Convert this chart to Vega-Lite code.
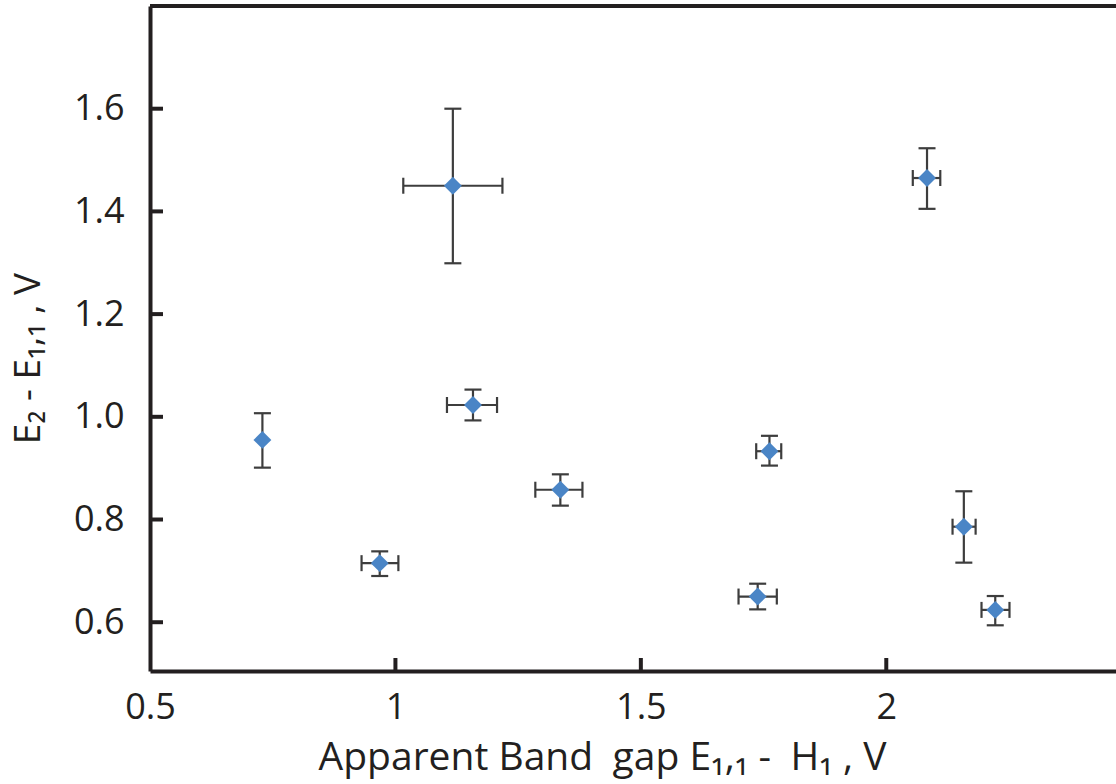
{
  "$schema": "https://vega.github.io/schema/vega-lite/v6.json",
  "width": 966,
  "height": 665,
  "autosize": {"type": "none"},
  "padding": {"left": 150, "top": 6, "right": 0, "bottom": 113},
  "background": "white",
  "config": {
    "view": {"stroke": null},
    "font": "Open Sans",
    "axis": {
      "grid": false,
      "ticks": false,
      "domainColor": "#231f20",
      "domainWidth": 4,
      "labelFont": "Open Sans",
      "labelFontSize": 36,
      "labelColor": "#231f20",
      "labelFlush": false,
      "labelOverlap": false,
      "titleFont": "Open Sans",
      "titleFontSize": 37,
      "titleFontWeight": "normal",
      "titleColor": "#231f20"
    }
  },
  "data": {
    "values": [
      {"x": 0.729, "y": 0.955, "xlo": null, "xhi": null, "ylo": 0.901, "yhi": 1.007},
      {"x": 0.968, "y": 0.715, "xlo": 0.931, "xhi": 1.006, "ylo": 0.690, "yhi": 0.738},
      {"x": 1.158, "y": 1.023, "xlo": 1.105, "xhi": 1.207, "ylo": 0.993, "yhi": 1.053},
      {"x": 1.336, "y": 0.858, "xlo": 1.285, "xhi": 1.381, "ylo": 0.827, "yhi": 0.888},
      {"x": 1.117, "y": 1.450, "xlo": 1.016, "xhi": 1.218, "ylo": 1.299, "yhi": 1.600},
      {"x": 2.083, "y": 1.465, "xlo": 2.054, "xhi": 2.110, "ylo": 1.405, "yhi": 1.523},
      {"x": 1.738, "y": 0.650, "xlo": 1.699, "xhi": 1.777, "ylo": 0.625, "yhi": 0.675},
      {"x": 2.222, "y": 0.624, "xlo": 2.194, "xhi": 2.251, "ylo": 0.594, "yhi": 0.651},
      {"x": 1.762, "y": 0.933, "xlo": 1.735, "xhi": 1.786, "ylo": 0.905, "yhi": 0.963},
      {"x": 2.158, "y": 0.786, "xlo": 2.135, "xhi": 2.182, "ylo": 0.716, "yhi": 0.855}
    ]
  },
  "layer": [
    {
      "mark": {"type": "rule", "color": "#231f20", "strokeWidth": 4},
      "encoding": {
        "y": {"datum": 1.8, "type": "quantitative", "scale": {"domain": [0.505, 1.8], "nice": false, "zero": false}}
      }
    },
    {
      "data": {"values": [{"tv": 1}, {"tv": 1.5}, {"tv": 2}]},
      "mark": {"type": "tick", "orient": "vertical", "color": "#231f20", "thickness": 4, "size": 13, "opacity": 1},
      "encoding": {
        "x": {"field": "tv", "type": "quantitative"},
        "y": {"datum": 0.5177, "type": "quantitative"}
      }
    },
    {
      "data": {"values": [{"tv": 0.6}, {"tv": 0.8}, {"tv": 1.0}, {"tv": 1.2}, {"tv": 1.4}, {"tv": 1.6}]},
      "mark": {"type": "tick", "orient": "horizontal", "color": "#231f20", "thickness": 4, "size": 13, "opacity": 1},
      "encoding": {
        "y": {"field": "tv", "type": "quantitative"},
        "x": {"datum": 0.5132, "type": "quantitative"}
      }
    },
    {
      "mark": {"type": "rule", "color": "#3d3d3d", "strokeWidth": 2.2},
      "encoding": {
        "x": {"field": "x", "type": "quantitative"},
        "y": {"field": "ylo", "type": "quantitative"},
        "y2": {"field": "yhi"}
      }
    },
    {
      "mark": {"type": "rule", "color": "#3d3d3d", "strokeWidth": 2.2},
      "encoding": {
        "x": {"field": "xlo", "type": "quantitative"},
        "x2": {"field": "xhi"},
        "y": {"field": "y", "type": "quantitative"}
      }
    },
    {
      "mark": {"type": "tick", "orient": "horizontal", "color": "#3d3d3d", "thickness": 2.2, "size": 17, "opacity": 1},
      "encoding": {
        "x": {"field": "x", "type": "quantitative"},
        "y": {"field": "ylo", "type": "quantitative"}
      }
    },
    {
      "mark": {"type": "tick", "orient": "horizontal", "color": "#3d3d3d", "thickness": 2.2, "size": 17, "opacity": 1},
      "encoding": {
        "x": {"field": "x", "type": "quantitative"},
        "y": {"field": "yhi", "type": "quantitative"}
      }
    },
    {
      "mark": {"type": "tick", "orient": "vertical", "color": "#3d3d3d", "thickness": 2.2, "size": 16, "opacity": 1},
      "encoding": {
        "x": {"field": "xlo", "type": "quantitative"},
        "y": {"field": "y", "type": "quantitative"}
      }
    },
    {
      "mark": {"type": "tick", "orient": "vertical", "color": "#3d3d3d", "thickness": 2.2, "size": 16, "opacity": 1},
      "encoding": {
        "x": {"field": "xhi", "type": "quantitative"},
        "y": {"field": "y", "type": "quantitative"}
      }
    },
    {
      "mark": {"type": "point", "shape": "diamond", "filled": true, "color": "#4a85c6", "size": 320, "opacity": 1},
      "encoding": {
        "x": {
          "field": "x", "type": "quantitative",
          "scale": {"domain": [0.5, 2.468], "nice": false, "zero": false},
          "axis": {
            "values": [0.5, 1, 1.5, 2],
            "format": "~g",
            "labelPadding": 19,
            "title": "Apparent Band\u2002gap E₁,₁ -\u2002H₁ , V",
            "titleFontSize": 39,
            "titleX": 452,
            "titleY": 98,
            "titleAnchor": null,
            "titleAlign": "center",
            "titleBaseline": "alphabetic"
          }
        },
        "y": {
          "field": "y", "type": "quantitative",
          "axis": {
            "values": [0.6, 0.8, 1.0, 1.2, 1.4, 1.6],
            "format": ".1f",
            "labelPadding": 26,
            "title": "E₂ - E₁,₁ , V",
            "titleX": -122,
            "titleY": 352,
            "titleAngle": -90,
            "titleAlign": "center",
            "titleBaseline": "middle"
          }
        }
      }
    }
  ]
}
